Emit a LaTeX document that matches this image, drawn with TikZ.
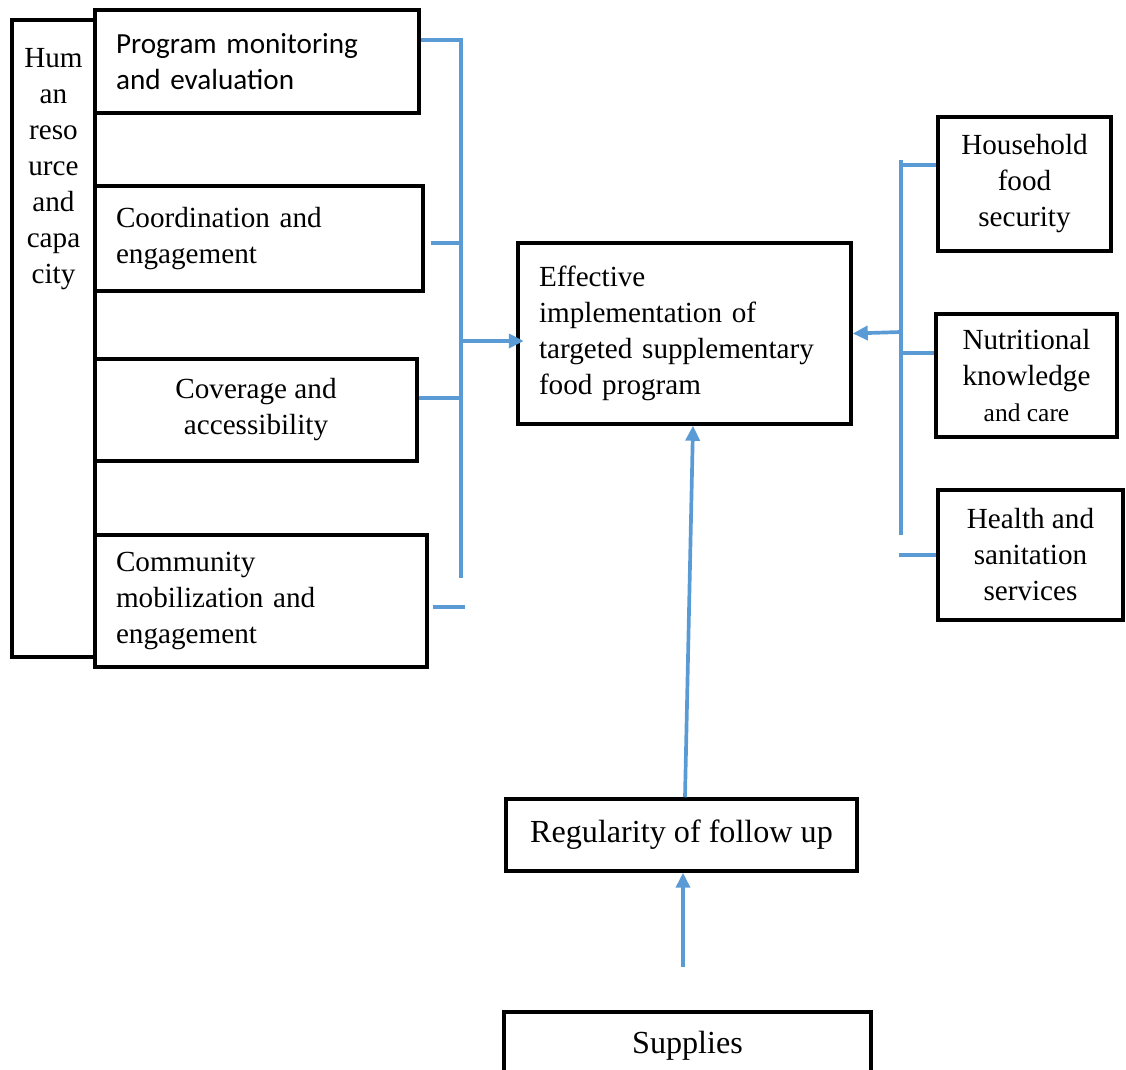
\documentclass[tikz,border=0pt]{standalone}
\usepackage{fontspec}
\setmainfont{Liberation Serif}
\newfontfamily\calibri{Carlito}
\usetikzlibrary{arrows.meta}
\definecolor{linkblue}{RGB}{91,155,213}

\begin{document}
\begin{tikzpicture}[x=0.02cm, y=-0.02cm]
    \tikzstyle{box} = [shape=rectangle, draw, line width=2pt, inner xsep=0.42cm, inner ysep=0pt, font=\fontsize{16.6}{20.5}\selectfont]
    \tikzstyle{leftbox} = [box, align=left]
    \tikzstyle{midbox} = [box, align=center]
    \tikzstyle{link} = [draw=linkblue, line width=2.1pt]
    \tikzstyle{arr} = [link, -{Triangle[width=0.28cm, length=0.3cm]}]

    \useasboundingbox (0,0) rectangle (1126,1070);

    \node[box, minimum width=1.66cm, minimum height=12.74cm] (hr) at (53.5,338.5) {};
    \node[align=center, inner sep=0pt, anchor=north, font=\fontsize{16.6}{20.5}\selectfont] (hrtext) at (53.5,48) {Hum\\an\\reso\\urce\\and\\capa\\city};

        \node[leftbox, text width=5.64cm, minimum width=6.48cm, minimum height=2.06cm, font=\calibri\fontsize{16.6}{20.5}\selectfont] (pme) at (257,61.5) {Program monitoring\\and evaluation};
        \node[leftbox, text width=5.72cm, minimum width=6.56cm, minimum height=2.1cm] (coord) at (259,238.5) {Coordination and\\engagement};
        \node[midbox, minimum width=6.44cm, minimum height=2.04cm] (cover) at (256,410) {Coverage and\\accessibility};
        \node[leftbox, text width=5.8cm, minimum width=6.64cm, minimum height=2.64cm] (comm) at (261,601) {Community\\mobilization and\\engagement};

        \node[leftbox, text width=5.82cm, minimum width=6.66cm, minimum height=3.62cm] (eff) at (684.5,333.5) {Effective\\implementation of\\targeted supplementary\\food program};

        \node[midbox, minimum width=3.46cm, minimum height=2.68cm] (house) at (1024.5,184) {Household\\food\\security};
        \node[midbox, minimum width=3.62cm, minimum height=2.46cm] (nutr) at (1026.5,375.5) {Nutritional\\knowledge\\{\fontsize{14.5}{17}\selectfont and care}};
        \node[midbox, minimum width=3.7cm, minimum height=2.6cm] (health) at (1030.5,555) {Health and\\sanitation\\services};

        \node[midbox, minimum width=7.02cm, minimum height=1.44cm, font=\fontsize{18.3}{22}\selectfont] (reg) at (681.5,835) {Regularity of follow up};
        \node[midbox, minimum width=7.34cm, minimum height=1.36cm, font=\fontsize{18.3}{22}\selectfont] (supp) at (687.5,1046) {Supplies};

    \coordinate (lbt) at (461,40);
    \coordinate (lbb) at (461,578);
    \coordinate (lmid) at (461,341);
    \coordinate (rbt) at (901,160);
    \coordinate (rbb) at (901,535);
    \coordinate (rmid) at (901,332);
    \coordinate (supin) at (683,967);

    \draw[link] (lbt -| pme.east) -- (lbt) -- (lbb);
    \draw[link] ([xshift=0.12cm, yshift=-0.09cm]coord.east) -- ++(28,0);
    \draw[link] ([yshift=0.24cm]cover.east) -- ++(44,0);
    \draw[link] ([xshift=0.08cm, yshift=-0.12cm]comm.east) -- ++(32,0);
    \draw[arr] (lmid) -- ([xshift=0.15cm]eff.west |- lmid);

    \draw[link] (rbt) -- (rbb);
    \draw[link] ([yshift=0.38cm]house.west) -- ++(-37,0);
    \draw[link] ([yshift=0.45cm]nutr.west) -- ++(-33,0);
    \draw[link] (health.west) -- ++(-37,0);
    \draw[arr] (rmid) -- (eff.east);

    \draw[arr] ([xshift=0.07cm]reg.north) -- ([xshift=0.17cm]eff.south);
    \draw[arr] (supin) -- (reg.south -| supin);
\end{tikzpicture}
\end{document}
